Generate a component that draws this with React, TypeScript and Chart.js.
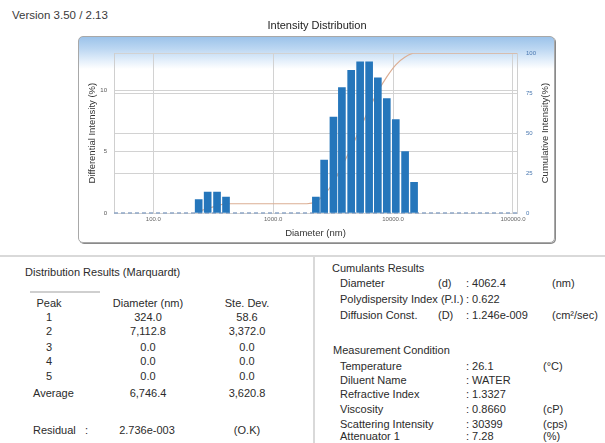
import React, { useEffect, useRef } from "react";
import { Chart, registerables } from "chart.js";

Chart.register(...registerables);

// ---- chart data ----
const binDiameters = [239, 284, 340, 404, 2270, 2660, 3180, 3740, 4470, 5310, 6310, 7460, 8860, 10530, 12590, 14960];
const differentialIntensity = [1.1, 1.7, 1.7, 1.3, 1.3, 4.3, 7.8, 10.2, 11.6, 12.3, 12.3, 11.0, 9.3, 7.6, 5.0, 2.5];
const cumulativeDiameters = [239, 284, 340, 404, 1910, 2270, 2660, 3180, 3740, 4470, 5310, 6310, 7460, 8860, 10530, 12590, 14960, 108000];
const cumulativeIntensity = [1.1, 2.8, 4.5, 5.8, 5.8, 7.1, 11.4, 19.1, 29.2, 40.7, 52.9, 65.1, 76.0, 85.2, 92.7, 97.6, 100, 100];
const xTickValues = [100, 1000, 10000, 100000];
const leftTickValues = [0, 5, 10];
const rightTickValues = [0, 25, 50, 75, 100];

const chartTitle = "Intensity Distribution";
const xTitle = "Diameter (nm)";
const leftTitle = "Differential Intensity (%)";
const rightTitle = "Cumulative Intensity(%)";

// ---- report text ----
const versionText = "Version 3.50 / 2.13";
const peakHeader = ["Peak", "Diameter (nm)", "Ste. Dev."];
const peakRows = [
  ["1", "324.0", "58.6"],
  ["2", "7,112.8", "3,372.0"],
  ["3", "0.0", "0.0"],
  ["4", "0.0", "0.0"],
  ["5", "0.0", "0.0"],
];
const averageRow = ["Average", "6,746.4", "3,620.8"];
const residualRow = ["Residual", ":", "2.736e-003", "(O.K)"];
const cumulantRows = [
  ["Diameter", "(d)", ": 4062.4", "(nm)"],
  ["Polydispersity Index (P.I.)", "", ": 0.622", ""],
  ["Diffusion Const.", "(D)", ": 1.246e-009", "(cm\u00b2/sec)"],
];
const conditionRows = [
  ["Temperature", ": 26.1", "(\u00b0C)"],
  ["Diluent Name", ": WATER", ""],
  ["Refractive Index", ": 1.3327", ""],
  ["Viscosity", ": 0.8660", "(cP)"],
  ["Scattering Intensity", ": 30399", "(cps)"],
  ["Attenuator 1", ": 7.28", "(%)"],
];

const FONT = '"Liberation Sans", Arial, sans-serif';
const TEXT = "#2b2b2b";

function T({ x, y, children, align = "left", size = 11, color = TEXT, weight = 400 }: any) {
  const style: any = {
    position: "absolute",
    top: y - 7,
    left: x,
    lineHeight: "14px",
    fontSize: size,
    color,
    fontWeight: weight,
    whiteSpace: "nowrap",
  };
  if (align === "center") style.transform = "translateX(-50%)";
  return <div style={style}>{children}</div>;
}

const dashedBaseline = {
  id: "dashedBaseline",
  beforeDatasetsDraw(chart: any) {
    const { ctx, chartArea, scales } = chart;
    const y = scales.y.getPixelForValue(0);
    ctx.save();
    ctx.strokeStyle = "#8ea6c6";
    ctx.lineWidth = 1.5;
    ctx.setLineDash([4, 3]);
    ctx.beginPath();
    ctx.moveTo(chartArea.left, y);
    ctx.lineTo(chartArea.right, y);
    ctx.stroke();
    ctx.restore();
  },
};

// right-axis title reads bottom-to-top in the reference
const rightAxisTitle = {
  id: "rightAxisTitle",
  afterDraw(chart: any) {
    const { ctx, chartArea } = chart;
    const s = chart.scales.y1;
    ctx.save();
    ctx.translate(s.right - 11, (chartArea.top + chartArea.bottom) / 2);
    ctx.rotate(-Math.PI / 2);
    ctx.fillStyle = "#333";
    ctx.font = `9.5px ${FONT}`;
    ctx.textAlign = "center";
    ctx.textBaseline = "middle";
    ctx.fillText(rightTitle, 0, 0);
    ctx.restore();
  },
};

function IntensityChart() {
  const ref = useRef<HTMLCanvasElement | null>(null);
  useEffect(() => {
    if (!ref.current) return;
    const chart = new Chart(ref.current, {
      type: "bar",
      data: {
        datasets: [
          {
            type: "bar",
            label: "Differential",
            data: binDiameters.map((d, i) => ({ x: d, y: differentialIntensity[i] })),
            backgroundColor: "#2576bb",
            borderWidth: 0,
            barThickness: 7,
            yAxisID: "y",
            order: 1,
          } as any,
          {
            type: "line",
            label: "Cumulative",
            data: cumulativeDiameters.map((d, i) => ({ x: d, y: cumulativeIntensity[i] })),
            borderColor: "#dcae94",
            borderWidth: 1.2,
            pointRadius: 0,
            cubicInterpolationMode: "monotone",
            fill: false,
            yAxisID: "y1",
            order: 2,
          } as any,
        ],
      },
      plugins: [dashedBaseline, rightAxisTitle],
      options: {
        responsive: false,
        animation: false,
        devicePixelRatio: 1,
        layout: { padding: 0 },
        plugins: {
          legend: { display: false },
          tooltip: { enabled: false },
          title: {
            display: true,
            text: chartTitle,
            color: "#222",
            font: { family: FONT, size: 11, weight: "normal" },
            padding: { top: 3, bottom: 21 },
          },
        },
        scales: {
          x: {
            type: "logarithmic",
            min: 47,
            max: 108000,
            offset: false,
            afterBuildTicks: (s: any) => {
              s.ticks = xTickValues.map((v) => ({ value: v }));
            },
            afterFit: (s: any) => {
              s.height = 31;
            },
            ticks: {
              autoSkip: false,
              maxRotation: 0,
              padding: 3,
              color: "#666",
              font: { family: FONT, size: 6 },
              callback: (v: any) => Number(v).toFixed(1),
            },
            grid: { color: "#d2d2d2", drawTicks: false, offset: false },
            border: { display: false },
            title: {
              display: true,
              text: xTitle,
              color: "#333",
              font: { family: FONT, size: 9.5 },
              padding: { top: 0, bottom: 5 },
            },
          },
          y: {
            type: "linear",
            position: "left",
            min: 0,
            max: 13,
            afterBuildTicks: (s: any) => {
              s.ticks = leftTickValues.map((v) => ({ value: v }));
            },
            afterFit: (s: any) => {
              s.width = 36;
            },
            ticks: {
              padding: 7,
              color: "#555",
              font: { family: FONT, size: 6 },
            },
            grid: { color: "#d2d2d2", drawTicks: false },
            border: { display: true, color: "#cfcfcf" },
            title: {
              display: true,
              text: leftTitle,
              color: "#333",
              font: { family: FONT, size: 9.5 },
              padding: { top: 8.5, bottom: 0 },
            },
          },
          y1: {
            type: "linear",
            position: "right",
            min: 0,
            max: 100,
            afterBuildTicks: (s: any) => {
              s.ticks = rightTickValues.map((v) => ({ value: v }));
            },
            afterFit: (s: any) => {
              s.width = 39;
            },
            ticks: {
              padding: 9,
              color: "#4a78b0",
              font: { family: FONT, size: 6 },
            },
            grid: { color: "#d2d2d2", drawTicks: false },
            border: { display: true, color: "#cfcfcf" },
            title: { display: false },
          },
        },
      } as any,
    });
    return () => chart.destroy();
  }, []);
  return <canvas ref={ref} width={478} height={228} style={{ display: "block", width: 478, height: 228 }} />;
}

export default function App() {
  return (
    <div
      style={{
        position: "absolute",
        left: 0,
        top: 0,
        width: 605,
        height: 443,
        overflow: "hidden",
        background: "#fff",
        fontFamily: FONT,
      }}
    >
      <T x={12} y={15} size={11.5} color="#3a3a3a">{versionText}</T>

      {/* chart frame */}
      <div
        style={{
          position: "absolute",
          left: 78,
          top: 36,
          width: 475,
          height: 205,
          border: "1px solid #a8a8a8",
          borderRadius: 5,
          boxShadow: "1px 1px 0 #8a8a8a",
          background: "linear-gradient(to bottom, #9cc3ea 0px, #bcd7f2 12px, #e2eefa 23px, #ffffff 32px)",
        }}
      />
      <div style={{ position: "absolute", left: 78, top: 16 }}>
        <IntensityChart />
      </div>

      {/* separators */}
      <div style={{ position: "absolute", left: 0, top: 255, width: 605, height: 2, background: "#d9d9d9" }} />
      <div style={{ position: "absolute", left: 313, top: 257, width: 2, height: 186, background: "#d9d9d9" }} />
      <div style={{ position: "absolute", left: 30, top: 291, width: 70, height: 2, background: "#cfcfcf" }} />

      {/* distribution results */}
      <T x={25} y={272}>Distribution Results (Marquardt)</T>
      <T x={49} y={303} align="center">{peakHeader[0]}</T>
      <T x={148} y={303} align="center">{peakHeader[1]}</T>
      <T x={247} y={303} align="center">{peakHeader[2]}</T>
      {peakRows.map((r, i) => {
        const y = [317, 331, 347, 361, 376][i];
        return (
          <React.Fragment key={i}>
            <T x={49} y={y} align="center">{r[0]}</T>
            <T x={148} y={y} align="center">{r[1]}</T>
            <T x={247} y={y} align="center">{r[2]}</T>
          </React.Fragment>
        );
      })}
      <T x={33} y={393}>{averageRow[0]}</T>
      <T x={148} y={393} align="center">{averageRow[1]}</T>
      <T x={247} y={393} align="center">{averageRow[2]}</T>
      <T x={33} y={430}>{residualRow[0]}</T>
      <T x={85} y={430}>{residualRow[1]}</T>
      <T x={147} y={430} align="center">{residualRow[2]}</T>
      <T x={247} y={430} align="center">{residualRow[3]}</T>

      {/* cumulants */}
      <T x={332} y={268}>Cumulants Results</T>
      {cumulantRows.map((r, i) => {
        const y = [283, 299, 315][i];
        return (
          <React.Fragment key={i}>
            <T x={340} y={y}>{r[0]}</T>
            {r[1] ? <T x={438} y={y}>{r[1]}</T> : null}
            <T x={466} y={y}>{r[2]}</T>
            {r[3] ? <T x={552} y={y}>{r[3]}</T> : null}
          </React.Fragment>
        );
      })}

      <T x={333} y={350}>Measurement Condition</T>
      {conditionRows.map((r, i) => {
        const y = [366, 380, 394, 409, 424, 436][i];
        return (
          <React.Fragment key={i}>
            <T x={340} y={y}>{r[0]}</T>
            <T x={466} y={y}>{r[1]}</T>
            {r[2] ? <T x={543} y={y}>{r[2]}</T> : null}
          </React.Fragment>
        );
      })}
    </div>
  );
}
